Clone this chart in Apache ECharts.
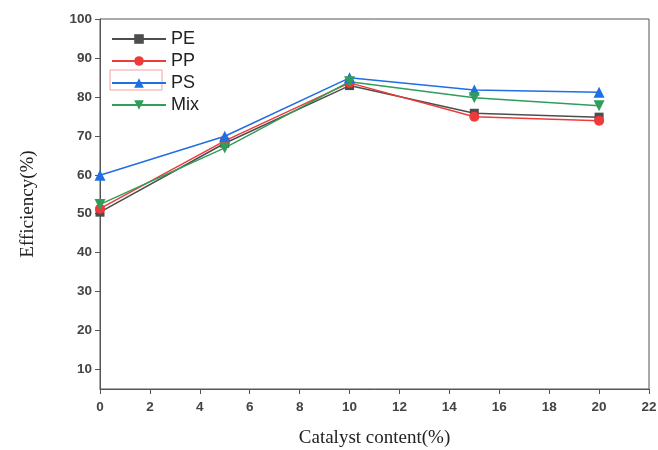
<!DOCTYPE html>
<html><head><meta charset="utf-8">
<script src="https://cdn.jsdelivr.net/npm/echarts@6/dist/echarts.min.js"></script>
<style>html,body{margin:0;padding:0;background:#fff}#c{width:658px;height:450px}</style>
</head><body><div id="c"></div>
<script>
var xValues = [0, 5, 10, 15, 20];
var pe = [50.4, 68.1, 82.9, 75.8, 74.8];
var pp = [51.3, 68.7, 83.6, 74.9, 73.9];
var ps = [59.9, 69.9, 84.9, 81.8, 81.2];
var mix = [52.4, 66.9, 83.9, 79.8, 77.7];
var yTicks = [10, 20, 30, 40, 50, 60, 70, 80, 90, 100];
var seriesNames = ['PE', 'PP', 'PS', 'Mix'];

function pts(arr){ return xValues.map(function(x,i){ return [x, arr[i]]; }); }
var chart = echarts.init(document.getElementById('c'));
var labelStyle = {color:'#444', fontFamily:'Liberation Sans, Arial', fontWeight:'bold', fontSize:13.5};
chart.setOption({
  animation:false,
  grid:{left:100, top:19, right:9, bottom:61, show:true, borderColor:'#555', borderWidth:1, outerBoundsMode:'none', containLabel:false},
  legend:{
    data:seriesNames, orient:'vertical', left:106, top:25, itemGap:4, itemWidth:54, itemHeight:12,
    textStyle:{fontFamily:'Liberation Sans, Arial', fontSize:18, color:'#222'}
  },
  xAxis:{
    type:'value', min:0, max:22, interval:2,
    name:'Catalyst content(%)', nameLocation:'middle', nameGap:40,
    nameTextStyle:{fontFamily:'Liberation Serif, Times New Roman', fontSize:19, color:'#222'},
    axisLine:{lineStyle:{color:'#555'}}, axisTick:{length:5, lineStyle:{color:'#555'}},
    splitLine:{show:false}, axisLabel:Object.assign({margin:11}, labelStyle)
  },
  yAxis:{
    type:'value', min:5, max:100,
    name:'Efficiency(%)', nameLocation:'middle', nameGap:62,
    nameTextStyle:{fontFamily:'Liberation Serif, Times New Roman', fontSize:19, color:'#222'},
    axisLine:{show:true, lineStyle:{color:'#555'}},
    axisTick:{show:true, length:5, lineStyle:{color:'#555'}, customValues:yTicks},
    axisLabel:Object.assign({customValues:yTicks}, labelStyle),
    splitLine:{show:false}
  },
  series:[
    {name:'PE', type:'line', data:pts(pe), symbol:'rect', symbolSize:9, color:'#4d4d4d', lineStyle:{width:1.5}},
    {name:'PP', type:'line', data:pts(pp), symbol:'circle', symbolSize:10, color:'#f03a3a', lineStyle:{width:1.5}},
    {name:'PS', type:'line', data:pts(ps), symbol:'triangle', symbolSize:11, color:'#1e6ee6', lineStyle:{width:1.5}},
    {name:'Mix', type:'line', data:pts(mix), symbol:'triangle', symbolRotate:180, symbolSize:11, color:'#2e9e5a', lineStyle:{width:1.5}}
  ],
  graphic:[{type:'rect', shape:{x:110, y:70, width:52, height:20}, style:{fill:'none', stroke:'#f5a0a0', lineWidth:1}}]
});
</script></body></html>
